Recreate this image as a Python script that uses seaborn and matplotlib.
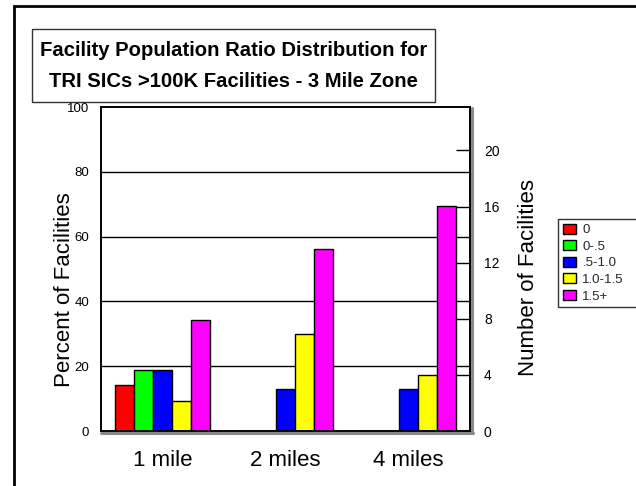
import matplotlib
matplotlib.use("Agg")
import matplotlib.pyplot as plt
import seaborn as sns
import pandas as pd
from matplotlib.patches import Rectangle, Patch
from matplotlib.lines import Line2D

# ---- data ----
distances = ["1 mile", "2 miles", "4 miles"]
ratio_classes = ["0", "0-.5", ".5-1.0", "1.0-1.5", "1.5+"]
pct_0 = [14.2, 0, 0]
pct_0_05 = [18.7, 0, 0]
pct_05_10 = [18.7, 12.9, 12.9]
pct_10_15 = [9.2, 29.8, 17.2]
pct_15p = [34.4, 56.1, 69.5]
colors = ["#FF0000", "#00FF00", "#0000FF", "#FFFF00", "#FF00FF"]
left_ticks = [0, 20, 40, 60, 80, 100]
right_ticks = [0, 4, 8, 12, 16, 20]
right_max = 23.1
title_lines = ["Facility Population Ratio Distribution for",
               "TRI SICs >100K Facilities - 3 Mile Zone"]

series = [pct_0, pct_0_05, pct_05_10, pct_10_15, pct_15p]
rows = []
for cls, vals in zip(ratio_classes, series):
    for d, v in zip(distances, vals):
        rows.append({"distance": d, "ratio": cls, "pct": v})
df = pd.DataFrame(rows)

W, H = 636, 486
sns.set_theme(style="white")
plt.rcParams['font.family'] = ['Liberation Sans', 'DejaVu Sans']

fig = plt.figure(figsize=(W / 100, H / 100), dpi=100)
fig.patch.set_facecolor("white")


def fx(px):
    return px / W


def fy(py):
    return 1 - py / H


ax = fig.add_axes([fx(101), fy(431), fx(470) - fx(101), fy(107) - fy(431)])
sns.barplot(data=df, x="distance", y="pct", hue="ratio", order=distances,
            hue_order=ratio_classes, palette=colors, saturation=1,
            width=0.78, edgecolor="black", linewidth=1, ax=ax, legend=False,
            zorder=2)
ax.set_xlim(-0.5, 2.5)
ax.set_ylim(0, 100)
ax.set_yticks(left_ticks)
ax.set_yticklabels([str(t) for t in left_ticks])
ax.set_xlabel("")
ax.set_ylabel("")
ax.set_axisbelow(False)
ax.grid(False)
for t in left_ticks[1:-1]:
    ax.axhline(t, color="black", lw=1, zorder=0.5)
ax.tick_params(axis="y", length=0, labelsize=9.5, pad=8.6, colors="black")
ax.tick_params(axis="x", direction="in", length=10, width=1, color="black",
               labelsize=16, pad=14, labelcolor="black")
for s in ax.spines.values():
    s.set_color("black")
    s.set_linewidth(1.2)
    s.set_visible(True)

ax2 = ax.twinx()
ax2.set_ylim(0, right_max)
ax2.set_yticks(right_ticks)
ax2.set_yticklabels([str(t) for t in right_ticks])
ax2.tick_params(axis="y", direction="in", length=10, width=1, color="black",
                labelsize=10, pad=10, labelcolor="black")
ax2.grid(False)
for s in ax2.spines.values():
    s.set_color("black")
    s.set_linewidth(1.2)

# shadow edges of plot frame
fig.add_artist(Line2D([fx(472), fx(472)], [fy(108), fy(433)], color="#8a8a8a", lw=2.2))
fig.add_artist(Line2D([fx(101), fx(473)], [fy(433), fy(433)], color="#8a8a8a", lw=2.2))

# axis labels
fig.text(fx(64), fy(290), "Percent of Facilities", rotation=90, ha="center",
         va="center", fontsize=16, color="black")
fig.text(fx(528), fy(278), "Number of Facilities", rotation=90, ha="center",
         va="center", fontsize=16, color="black")

# outer border
fig.add_artist(Rectangle((fx(14), fy(700)), fx(900), (700 - 6) / H, fill=False,
                         edgecolor="black", lw=2, transform=fig.transFigure))

# title box
fig.add_artist(Rectangle((fx(32), fy(102)), fx(435) - fx(32), (102 - 29) / H,
                         facecolor="white", edgecolor="#333333", lw=1,
                         transform=fig.transFigure, zorder=5))
fig.text(fx(233.5), fy(56.5), title_lines[0], ha="center", va="baseline",
         fontsize=14.6, fontweight="bold", color="black", zorder=6)
fig.text(fx(233.5), fy(87), title_lines[1], ha="center", va="baseline",
         fontsize=14.6, fontweight="bold", color="black", zorder=6)

# legend
handles = [Patch(facecolor=c, edgecolor="black", lw=1) for c in colors]
leg = fig.legend(handles, ratio_classes, loc="upper left",
                 bbox_to_anchor=(fx(558), fy(307), fx(640) - fx(558), (307 - 219) / H),
                 mode="expand", frameon=True, fancybox=False, fontsize=9.5,
                 handlelength=1.05, handleheight=0.8, labelspacing=0.3,
                 handletextpad=0.45, borderpad=0.35, borderaxespad=0)
leg.get_frame().set_edgecolor("black")
leg.get_frame().set_linewidth(1)

fig.savefig("out.png", dpi=100)
